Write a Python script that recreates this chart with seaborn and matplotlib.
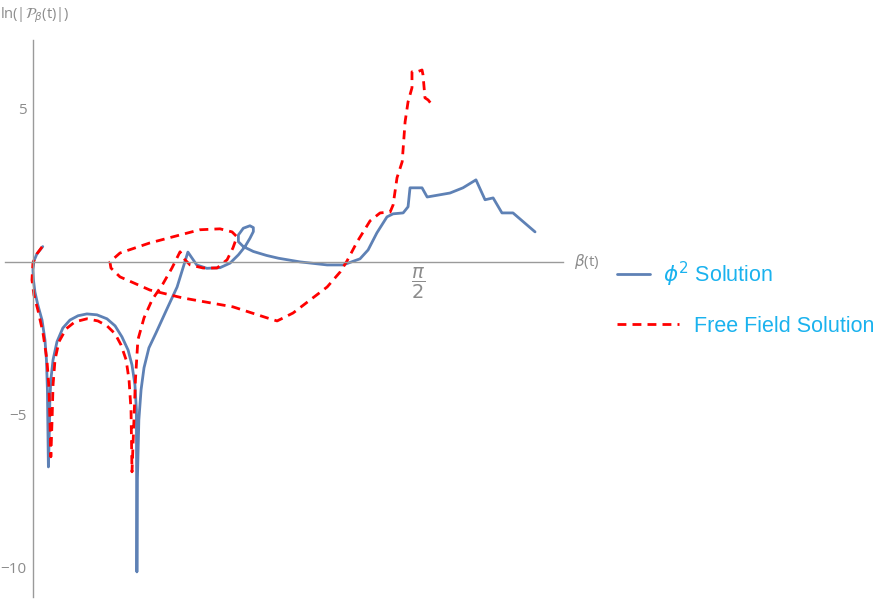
import numpy as np
import pandas as pd
import matplotlib
matplotlib.use("Agg")
import matplotlib.pyplot as plt
import seaborn as sns

# --- data (beta(t), ln|P_beta(t)|), in parameter order ---
phi2_beta = [0.040, 0.016, 0.004, 0.000, 0.002, 0.008, 0.020, 0.037, 0.049, 0.055,
             0.059, 0.061, 0.063, 0.067, 0.069, 0.073, 0.082, 0.098, 0.122, 0.151,
             0.184, 0.220, 0.261, 0.302, 0.335, 0.363, 0.388, 0.404, 0.416, 0.422,
             0.424, 0.426, 0.432, 0.441, 0.453, 0.473, 0.502, 0.543, 0.588, 0.632,
             0.668, 0.709, 0.763, 0.804, 0.838, 0.865, 0.885, 0.899, 0.899, 0.885,
             0.858, 0.838, 0.838, 0.858, 0.899, 0.953, 1.001, 1.089, 1.200, 1.265,
             1.334, 1.367, 1.403, 1.444, 1.469, 1.510, 1.530, 1.538, 1.587, 1.608,
             1.701, 1.754, 1.807, 1.844, 1.877, 1.913, 1.958, 2.048]
phi2_lnP = [0.50, 0.26, 0.03, -0.26, -0.59, -0.98, -1.41, -1.90, -2.55, -3.20,
            -4.18, -5.49, -6.70, -5.49, -4.51, -3.86, -3.20, -2.61, -2.16, -1.90,
            -1.76, -1.70, -1.73, -1.86, -2.09, -2.45, -2.88, -3.37, -4.02, -4.84,
            -10.13, -7.12, -5.16, -4.18, -3.46, -2.81, -2.32, -1.60, -0.82, 0.32,
            -0.10, -0.21, -0.19, -0.04, 0.23, 0.50, 0.77, 0.99, 1.12, 1.18,
            1.10, 0.88, 0.66, 0.50, 0.34, 0.21, 0.12, 0.00, -0.10, -0.10,
            0.10, 0.39, 0.95, 1.47, 1.57, 1.60, 1.80, 2.42, 2.42, 2.12,
            2.25, 2.42, 2.68, 2.03, 2.09, 1.60, 1.60, 0.98]

free_beta = [0.037, 0.016, 0.000, -0.004, 0.004, 0.020, 0.041, 0.057, 0.065, 0.069,
             0.073, 0.078, 0.082, 0.090, 0.106, 0.135, 0.171, 0.220, 0.265, 0.302,
             0.335, 0.359, 0.380, 0.392, 0.400, 0.404, 0.412, 0.418, 0.428, 0.453,
             0.486, 0.530, 0.567, 0.600, 0.620, 0.641, 0.694, 0.751, 0.792, 0.816,
             0.832, 0.812, 0.763, 0.681, 0.600, 0.477, 0.355, 0.314, 0.318,
             0.355, 0.477, 0.612, 0.816, 0.955, 0.996, 1.061, 1.200, 1.253, 1.281,
             1.322, 1.375, 1.416, 1.457, 1.469, 1.485, 1.506, 1.518, 1.530, 1.546,
             1.546, 1.567, 1.587, 1.591, 1.599, 1.612, 1.628]
free_lnP = [0.49, 0.26, -0.03, -0.59, -1.08, -1.57, -2.32, -3.20, -4.08, -5.07,
            -6.37, -5.16, -4.02, -3.20, -2.61, -2.19, -1.96, -1.86, -1.93, -2.09,
            -2.35, -2.71, -3.20, -3.86, -4.84, -6.86, -5.16, -3.86, -2.55, -1.83,
            -1.24, -0.72, -0.20, 0.33, 0.07, -0.10, -0.20, -0.20, 0.07, 0.46,
            0.82, 0.98, 1.08, 1.05, 0.88, 0.62, 0.29, 0.00, -0.20,
            -0.49, -0.92, -1.18, -1.47, -1.83, -1.93, -1.67, -0.82, -0.33, 0.03,
            0.65, 1.34, 1.60, 1.63, 1.86, 2.75, 3.27, 4.58, 5.23, 5.69,
            6.21, 6.21, 6.27, 6.11, 5.36, 5.29, 5.13]

y_major = [-10, -5, 5]
y_major_labels = ["\u221210", "\u22125", "5"]
series_labels = [r"$\phi^2$ Solution", "Free Field Solution"]

df_phi = pd.DataFrame({"beta": phi2_beta, "lnP": phi2_lnP})
df_free = pd.DataFrame({"beta": free_beta, "lnP": free_lnP})

sns.set_style("white")
plt.rcParams["font.family"] = ["Open Sans", "DejaVu Sans"]
plt.rcParams["mathtext.fontset"] = "dejavusans"

axis_gray = "#9a9a9a"
text_gray = "#8c8c8c"
blue = "#5e81b5"
legend_blue = "#1ab2ee"

fig = plt.figure(figsize=(8.87, 5.99), dpi=100)
ax = fig.add_axes([5 / 887, 2 / 599, 558 / 887, 557 / 599])

sns.lineplot(data=df_phi, x="beta", y="lnP", sort=False, estimator=None,
             color=blue, linewidth=2.0, ax=ax, label=series_labels[0])
sns.lineplot(data=df_free, x="beta", y="lnP", sort=False, estimator=None,
             color="red", linewidth=2.0, ax=ax, label=series_labels[1])
ax.lines[1].set_dashes([3.2, 2.2])

ax.set_xlim(-0.114, 2.162)
ax.set_ylim(-10.95, 7.25)

# mathematica style axes crossing at origin
for side in ["top", "right"]:
    ax.spines[side].set_visible(False)
ax.spines["left"].set_position(("data", 0))
ax.spines["bottom"].set_position(("data", 0))
for side in ["left", "bottom"]:
    ax.spines[side].set_color(axis_gray)
    ax.spines[side].set_linewidth(1.0)

ax.set_xticks([np.pi / 2])
ax.set_xticklabels([r"$\dfrac{\pi}{2}$"])
ax.set_yticks(y_major)
ax.set_yticklabels(y_major_labels)
ax.set_yticks(np.arange(-10, 8, 1), minor=True)
ax.tick_params(axis="y", which="major", direction="in", length=4.5, width=0.8,
               color=axis_gray, labelcolor=text_gray, labelsize=11, pad=4.5)
ax.tick_params(axis="y", which="minor", direction="in", length=2.8, width=0.8,
               color=axis_gray)
ax.tick_params(axis="x", which="major", direction="in", length=3.5, width=0.8,
               color=axis_gray, labelcolor=text_gray, labelsize=14, pad=3)
ax.set_xlabel("")
ax.set_ylabel("")

ax.text(1.02, 0, r"$\beta$(t)", transform=ax.get_yaxis_transform(),
        ha="left", va="center", color=text_gray, fontsize=11)
fig.text(0.0, 1 - 15 / 599, r"ln(|$\mathcal{P}_\beta$(t)|)", ha="left", va="center",
         color=text_gray, fontsize=10.5)

# two separate legend rows, like the reference
handles, labels = ax.get_legend_handles_labels()
ax.legend_.remove()
row_y = [274, 326]
row_len = [1.55, 2.9]
row_pad = [0.6, 0.7]
for h, lab, ry, hl, hp in zip(handles, labels, row_y, row_len, row_pad):
    leg = fig.legend([h], [lab], loc="center left",
                     bbox_to_anchor=(617 / 887, 1 - ry / 599), frameon=False,
                     borderpad=0, borderaxespad=0,
                     handlelength=hl, handletextpad=hp,
                     prop={"family": ["Liberation Sans", "DejaVu Sans"], "size": 15.5})
    for t in leg.get_texts():
        t.set_color(legend_blue)

fig.savefig("out.png", dpi=100)
